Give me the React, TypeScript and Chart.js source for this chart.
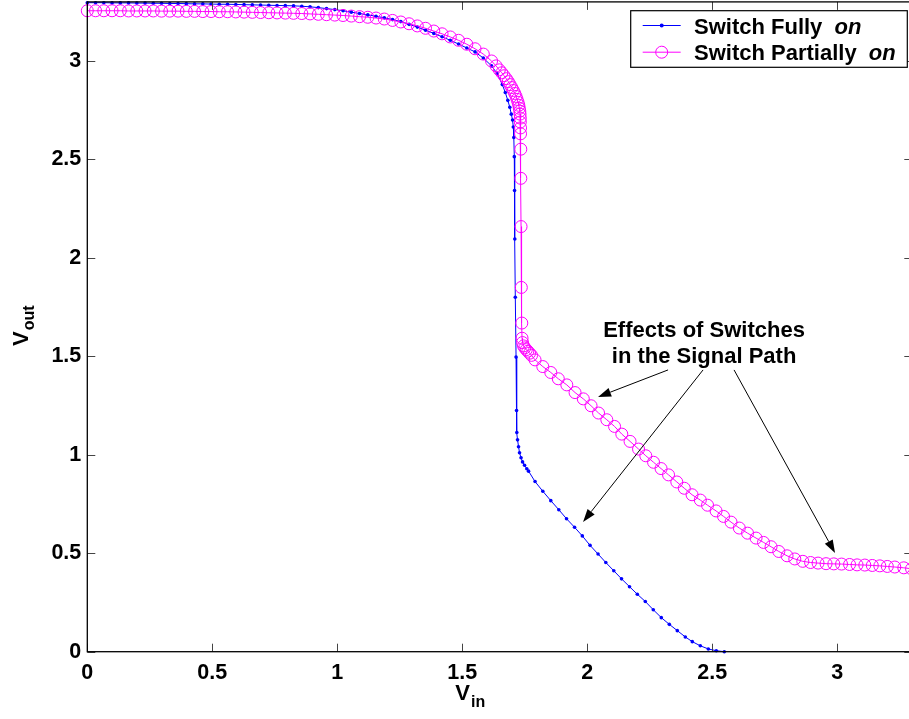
import React, { useEffect, useRef } from "react";
import { Chart, registerables } from "chart.js";

Chart.register(...registerables);

// ---------- data ----------
const fullyX = [0, 0.033, 0.066, 0.099, 0.132, 0.165, 0.198, 0.231, 0.264, 0.297, 0.33, 0.363, 0.396, 0.429, 0.462, 0.495, 0.528, 0.561, 0.594, 0.627, 0.66, 0.693, 0.726, 0.759, 0.792, 0.825, 0.858, 0.891, 0.924, 0.957, 0.99, 1.023, 1.056, 1.089, 1.122, 1.155, 1.188, 1.221, 1.254, 1.287, 1.32, 1.353, 1.386, 1.419, 1.452, 1.485, 1.518, 1.551, 1.584, 1.617,
  1.64, 1.66, 1.672, 1.682, 1.69, 1.696, 1.701, 1.704, 1.706, 1.708, 1.709, 1.71, 1.712, 1.715, 1.717, 1.718, 1.721, 1.725, 1.729, 1.735, 1.741, 1.749, 1.758, 1.765,
  1.791, 1.822, 1.854, 1.886, 1.917, 1.949, 1.98, 2.011, 2.043, 2.074, 2.106, 2.137, 2.169, 2.2, 2.232, 2.264, 2.296, 2.328, 2.36, 2.392, 2.42, 2.452, 2.484, 2.516, 2.548];
const fullyY = [3.296, 3.296, 3.296, 3.295, 3.295, 3.295, 3.294, 3.294, 3.293, 3.293, 3.292, 3.292, 3.291, 3.29, 3.29, 3.289, 3.288, 3.288, 3.287, 3.286, 3.285, 3.284, 3.283, 3.282, 3.281, 3.28, 3.278, 3.275, 3.271, 3.266, 3.261, 3.255, 3.248, 3.241, 3.234, 3.227, 3.219, 3.21, 3.2, 3.186, 3.172, 3.156, 3.14, 3.123, 3.105, 3.086, 3.066, 3.046, 3.015, 2.975,
  2.935, 2.88, 2.84, 2.8, 2.765, 2.73, 2.7, 2.665, 2.611, 2.514, 2.342, 2.096, 1.8, 1.496, 1.225, 1.113, 1.076, 1.041, 1.01, 0.985, 0.964, 0.947, 0.929, 0.917,
  0.864, 0.815, 0.767, 0.721, 0.675, 0.632, 0.588, 0.54, 0.496, 0.453, 0.411, 0.37, 0.33, 0.292, 0.255, 0.213, 0.173, 0.139, 0.107, 0.075, 0.051, 0.03, 0.014, 0.005, 0];

const partialX = [0, 0.033, 0.066, 0.099, 0.132, 0.165, 0.198, 0.231, 0.264, 0.297, 0.33, 0.363, 0.396, 0.429, 0.462, 0.495, 0.528, 0.561, 0.594, 0.627, 0.66, 0.693, 0.726, 0.759, 0.792, 0.825, 0.858, 0.891, 0.924, 0.957, 0.99, 1.023, 1.056, 1.089, 1.122, 1.155, 1.188, 1.221, 1.254, 1.287, 1.32, 1.353, 1.386, 1.419, 1.452, 1.485, 1.518, 1.551, 1.584, 1.617,
  1.635, 1.648, 1.658, 1.667, 1.676, 1.684, 1.691, 1.698, 1.704, 1.71, 1.715, 1.719, 1.723, 1.726, 1.728, 1.73, 1.731, 1.732, 1.732, 1.733, 1.733, 1.734, 1.734, 1.735, 1.736, 1.738, 1.739, 1.741, 1.745, 1.75, 1.756, 1.762, 1.769, 1.777,
  1.791, 1.822, 1.854, 1.884, 1.918, 1.951, 1.984, 2.015, 2.045, 2.078, 2.109, 2.138, 2.171, 2.205, 2.234, 2.265, 2.295, 2.325, 2.358, 2.388, 2.419, 2.452, 2.481, 2.515, 2.545, 2.575, 2.608, 2.641, 2.675, 2.705, 2.735, 2.766, 2.799, 2.83, 2.862, 2.893, 2.923, 2.955, 2.986, 3.017, 3.049, 3.079, 3.11, 3.14, 3.17, 3.2, 3.23, 3.266, 3.297];
const partialY = [3.255, 3.255, 3.255, 3.255, 3.255, 3.254, 3.254, 3.254, 3.254, 3.253, 3.253, 3.253, 3.252, 3.252, 3.251, 3.251, 3.25, 3.25, 3.249, 3.248, 3.247, 3.246, 3.245, 3.244, 3.243, 3.242, 3.241, 3.239, 3.237, 3.235, 3.233, 3.231, 3.228, 3.225, 3.222, 3.218, 3.213, 3.206, 3.198, 3.189, 3.178, 3.166, 3.152, 3.138, 3.122, 3.105, 3.085, 3.062, 3.035, 3.0,
  2.975, 2.955, 2.94, 2.925, 2.91, 2.895, 2.88, 2.865, 2.85, 2.835, 2.82, 2.805, 2.79, 2.775, 2.76, 2.745, 2.73, 2.71, 2.69, 2.66, 2.63, 2.552, 2.404, 2.159, 1.85, 1.669, 1.592, 1.57, 1.553, 1.543, 1.534, 1.526, 1.516, 1.505,
  1.482, 1.448, 1.418, 1.386, 1.355, 1.316, 1.284, 1.249, 1.212, 1.178, 1.144, 1.105, 1.068, 1.029, 0.995, 0.962, 0.93, 0.898, 0.862, 0.83, 0.797, 0.77, 0.744, 0.715, 0.687, 0.658, 0.628, 0.602, 0.577, 0.555, 0.533, 0.509, 0.487, 0.471, 0.459, 0.453, 0.45, 0.447, 0.446, 0.445, 0.443, 0.441, 0.44, 0.438, 0.436, 0.433, 0.43, 0.426, 0.421];

const xTicks = [0, 0.5, 1, 1.5, 2, 2.5, 3];
const yTicks = [0, 0.5, 1, 1.5, 2, 2.5, 3];
const xRange = [0, 3.3];
const yRange = [0, 3.3];

const seriesNames = ["Switch Fully", "Switch Partially"];
const seriesSuffix = "on";
const noteLines = ["Effects of Switches", "in the Signal Path"];
const noteAnchor = [2.467, 1.596, 1.464]; // x, baseline y line1, baseline y line2
// arrows: [fromX, fromY, toX, toY] in data units
const noteArrows = [
  [2.323, 1.431, 2.043, 1.294],
  [2.463, 1.431, 1.983, 0.659],
  [2.587, 1.431, 2.991, 0.501],
];

const FONT = '"Liberation Sans", Arial, Helvetica, sans-serif';
const BLUE = "#0000ff";
const MAGENTA = "#ff00ff";

function drawArrow(ctx: CanvasRenderingContext2D, x1: number, y1: number, x2: number, y2: number) {
  const ang = Math.atan2(y2 - y1, x2 - x1);
  const len = 13;
  const half = 4.5;
  const bx = x2 - len * Math.cos(ang);
  const by = y2 - len * Math.sin(ang);
  ctx.beginPath();
  ctx.moveTo(x1, y1);
  ctx.lineTo(bx, by);
  ctx.stroke();
  ctx.beginPath();
  ctx.moveTo(x2, y2);
  ctx.lineTo(bx + half * Math.sin(ang), by - half * Math.cos(ang));
  ctx.lineTo(bx - half * Math.sin(ang), by + half * Math.cos(ang));
  ctx.closePath();
  ctx.fill();
}

const decorPlugin = {
  id: "decor",
  afterDraw(chart: any) {
    const { ctx, chartArea: ca, scales } = chart;
    const xs = scales.x;
    const ys = scales.y;
    ctx.save();

    // inward ticks on all four sides
    ctx.strokeStyle = "#444";
    ctx.lineWidth = 1;
    ctx.beginPath();
    xTicks.forEach((v) => {
      const px = Math.round(xs.getPixelForValue(v)) + 0.5;
      ctx.moveTo(px, ca.bottom);
      ctx.lineTo(px, ca.bottom - 8);
      ctx.moveTo(px, ca.top);
      ctx.lineTo(px, ca.top + 8);
    });
    yTicks.forEach((v) => {
      const py = Math.round(ys.getPixelForValue(v)) + 0.5;
      ctx.moveTo(ca.left, py);
      ctx.lineTo(ca.left + 8, py);
      ctx.moveTo(ca.right, py);
      ctx.lineTo(ca.right - 8, py);
    });
    ctx.stroke();

    // frame
    ctx.strokeStyle = "#000";
    ctx.lineWidth = 1.3;
    ctx.strokeRect(ca.left, ca.top, ca.right - ca.left, ca.bottom - ca.top);

    // legend
    const bw = 276.6;
    const bh = 56.6;
    const bx = ca.right - 5 - bw;
    const by = ca.top + 8.8;
    ctx.fillStyle = "#fff";
    ctx.fillRect(bx, by, bw, bh);
    ctx.strokeStyle = "#000";
    ctx.lineWidth = 1.2;
    ctx.strokeRect(bx, by, bw, bh);
    const rows = [by + 14.8, by + 41.5];
    const colors = [BLUE, MAGENTA];
    rows.forEach((ry, i) => {
      ctx.strokeStyle = colors[i];
      ctx.lineWidth = 1;
      ctx.beginPath();
      ctx.moveTo(bx + 12, ry);
      ctx.lineTo(bx + 50, ry);
      ctx.stroke();
      if (i === 0) {
        ctx.fillStyle = BLUE;
        ctx.beginPath();
        ctx.arc(bx + 31, ry, 2, 0, Math.PI * 2);
        ctx.fill();
      } else {
        ctx.beginPath();
        ctx.arc(bx + 31, ry, 6, 0, Math.PI * 2);
        ctx.stroke();
      }
      ctx.fillStyle = "#000";
      ctx.textAlign = "left";
      ctx.textBaseline = "alphabetic";
      ctx.font = `bold 22px ${FONT}`;
      const t = seriesNames[i] + "  ";
      ctx.fillText(t, bx + 63.3, ry + 8);
      const w = ctx.measureText(t).width;
      ctx.font = `italic bold 22px ${FONT}`;
      ctx.fillText(seriesSuffix, bx + 63.3 + w, ry + 8);
    });

    // annotation
    ctx.fillStyle = "#000";
    ctx.font = `bold 22px ${FONT}`;
    ctx.textAlign = "center";
    ctx.textBaseline = "alphabetic";
    const nx = xs.getPixelForValue(noteAnchor[0]);
    ctx.fillText(noteLines[0], nx, ys.getPixelForValue(noteAnchor[1]));
    ctx.fillText(noteLines[1], nx, ys.getPixelForValue(noteAnchor[2]));
    ctx.strokeStyle = "#000";
    ctx.lineWidth = 1;
    noteArrows.forEach((a) => {
      drawArrow(ctx, xs.getPixelForValue(a[0]), ys.getPixelForValue(a[1]), xs.getPixelForValue(a[2]), ys.getPixelForValue(a[3]));
    });

    // axis titles
    ctx.textAlign = "left";
    ctx.fillStyle = "#000";
    // x title: V_in
    const vx = ca.left + 368;
    ctx.font = `bold 22px ${FONT}`;
    ctx.fillText("V", vx, 700);
    const vw = ctx.measureText("V").width;
    ctx.font = `bold 16px ${FONT}`;
    ctx.fillText("in", vx + vw + 1, 707);
    // y title: V_out
    ctx.save();
    ctx.translate(28, 346);
    ctx.rotate(-Math.PI / 2);
    ctx.font = `bold 22px ${FONT}`;
    ctx.fillText("V", 0, 0);
    const vw2 = ctx.measureText("V").width;
    ctx.font = `bold 16px ${FONT}`;
    ctx.fillText("out", vw2 + 1, 6);
    ctx.restore();

    ctx.restore();
  },
};

export default function App() {
  const ref = useRef<HTMLCanvasElement | null>(null);

  useEffect(() => {
    if (!ref.current) return;
    const toPts = (xa: number[], ya: number[]) => xa.map((x, i) => ({ x, y: ya[i] }));
    const tickFont = { family: FONT, size: 21.5, weight: "bold" as const };
    const chart = new Chart(ref.current, {
      type: "line",
      data: {
        datasets: [
          {
            label: seriesNames[1] + " " + seriesSuffix,
            data: toPts(partialX, partialY),
            borderColor: MAGENTA,
            borderWidth: 1,
            pointStyle: "circle",
            pointRadius: 6,
            pointBorderWidth: 1,
            pointBorderColor: MAGENTA,
            pointBackgroundColor: "rgba(0,0,0,0)",
            tension: 0,
            clip: false,
          },
          {
            label: seriesNames[0] + " " + seriesSuffix,
            data: toPts(fullyX, fullyY),
            borderColor: BLUE,
            borderWidth: 1,
            pointStyle: "circle",
            pointRadius: 1.8,
            pointBorderWidth: 0,
            pointBackgroundColor: BLUE,
            tension: 0,
            clip: false,
          },
        ],
      },
      options: {
        animation: false,
        responsive: false,
        devicePixelRatio: 1,
        layout: { autoPadding: false, padding: { top: 1.9, right: 3.7, left: 0, bottom: 0 } },
        plugins: { legend: { display: false }, tooltip: { enabled: false } },
        scales: {
          x: {
            type: "linear",
            min: xRange[0],
            max: xRange[1],
            afterBuildTicks: (s: any) => {
              s.ticks = xTicks.map((v) => ({ value: v }));
            },
            afterFit: (s: any) => {
              s.height = 67.3;
              s.paddingLeft = 0;
              s.paddingRight = 0;
            },
            ticks: {
              font: tickFont,
              color: "#000",
              padding: 8,
              maxRotation: 0,
              autoSkip: false,
              callback: (v: any) => String(v),
            },
            grid: { display: false, drawTicks: false },
            border: { display: false },
          },
          y: {
            type: "linear",
            min: yRange[0],
            max: yRange[1],
            afterBuildTicks: (s: any) => {
              s.ticks = yTicks.map((v) => ({ value: v }));
            },
            afterFit: (s: any) => {
              s.width = 87.3;
              s.paddingTop = 0;
              s.paddingBottom = 0;
            },
            ticks: {
              font: tickFont,
              color: "#000",
              padding: 6,
              autoSkip: false,
              callback: (v: any) => String(v),
            },
            grid: { display: false, drawTicks: false },
            border: { display: false },
          },
        },
      },
      plugins: [decorPlugin],
    });
    return () => chart.destroy();
  }, []);

  return (
    <div style={{ position: "fixed", left: 0, top: 0, width: 909, height: 719, overflow: "hidden", background: "#fff" }}>
      <canvas ref={ref} width={916} height={719} style={{ display: "block", width: 916, height: 719 }} />
    </div>
  );
}
